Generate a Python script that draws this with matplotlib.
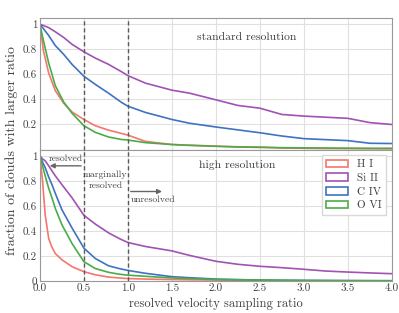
import matplotlib
matplotlib.use("Agg")
import matplotlib.pyplot as plt
from matplotlib.patches import Patch

plt.rcParams['font.family'] = 'serif'
plt.rcParams['font.serif'] = ['cmr10', 'DejaVu Serif']
plt.rcParams['mathtext.fontset'] = 'cm'
plt.rcParams['axes.unicode_minus'] = False

ions = ['H I', 'Si II', 'C IV', 'O VI']
colors = ['#f4776e', '#a152b3', '#3f72c0', '#4bab48']

# standard resolution
x_std = [0, 0.04, 0.1, 0.175, 0.27, 0.365, 0.5, 0.63, 0.78, 0.93, 1.0, 1.2,
         1.5, 1.7, 2.0, 2.25, 2.5, 2.75, 3.0, 3.25, 3.5, 3.75, 4.0]
hi_std = [1, 0.79, 0.61, 0.47, 0.37, 0.30, 0.24, 0.19, 0.155, 0.128, 0.115, 0.065,
          0.04, 0.035, 0.027, 0.022, 0.02, 0.012, 0.01, 0.008, 0.007, 0.006, 0.005]
siii_std = [1, 0.99, 0.973, 0.94, 0.895, 0.84, 0.78, 0.73, 0.68, 0.62, 0.59, 0.53,
            0.474, 0.45, 0.397, 0.352, 0.33, 0.28, 0.267, 0.258, 0.249, 0.215, 0.20]
civ_std = [1, 0.965, 0.91, 0.83, 0.76, 0.68, 0.585, 0.52, 0.45, 0.375, 0.346, 0.296,
           0.24, 0.21, 0.18, 0.157, 0.134, 0.108, 0.087, 0.079, 0.071, 0.05, 0.048]
ovi_std = [1, 0.87, 0.69, 0.51, 0.38, 0.29, 0.19, 0.137, 0.10, 0.08, 0.076, 0.055,
           0.04, 0.033, 0.026, 0.02, 0.017, 0.015, 0.013, 0.012, 0.011, 0.01, 0.01]

# high resolution
x_high = [0, 0.03, 0.06, 0.1, 0.137, 0.175, 0.25, 0.365, 0.5, 0.63, 0.78, 0.9, 1.0,
          1.2, 1.5, 1.7, 2.0, 2.25, 2.5, 2.75, 3.0, 3.25, 3.5, 3.75, 4.0]
hi_high = [1, 0.80, 0.53, 0.34, 0.27, 0.22, 0.17, 0.115, 0.075, 0.05, 0.032, 0.025, 0.02,
           0.016, 0.012, 0.01, 0.008, 0.006, 0.005, 0.004, 0.003, 0.003, 0.002, 0.002, 0.002]
siii_high = [1, 0.975, 0.96, 0.92, 0.88, 0.84, 0.77, 0.665, 0.525, 0.455, 0.385, 0.34, 0.308,
             0.276, 0.241, 0.205, 0.158, 0.134, 0.118, 0.107, 0.094, 0.08, 0.072, 0.065, 0.059]
civ_high = [1, 0.95, 0.906, 0.83, 0.77, 0.70, 0.57, 0.424, 0.263, 0.18, 0.122, 0.1, 0.085,
            0.062, 0.035, 0.027, 0.016, 0.012, 0.008, 0.006, 0.005, 0.004, 0.004, 0.003, 0.003]
ovi_high = [1, 0.92, 0.84, 0.74, 0.665, 0.58, 0.45, 0.30, 0.155, 0.10, 0.07, 0.055, 0.047,
            0.038, 0.025, 0.02, 0.012, 0.01, 0.008, 0.006, 0.005, 0.004, 0.003, 0.003, 0.002]

panels = [
    (x_std, [hi_std, siii_std, civ_std, ovi_std], 'standard resolution', (2.35, 0.9)),
    (x_high, [hi_high, siii_high, civ_high, ovi_high], 'high resolution', (2.24, 0.93)),
]

fig, axes = plt.subplots(2, 1, figsize=(3.99, 3.13), dpi=100, sharex=True)
fig.subplots_adjust(left=0.1, right=0.982, top=0.9425, bottom=0.102, hspace=0)

text_col = '0.25'
for ax, (xs, ys, title, tpos) in zip(axes, panels):
    for y, c in zip(ys, colors):
        ax.plot(xs, y, color=c, lw=1.2)
    for xv in [0.5, 1.0]:
        ax.axvline(xv, color='0.35', ls='--', lw=1.0, dashes=(3, 2))
    ax.set_xlim(0, 4)
    ax.set_ylim(0, 1.05)
    ax.grid(True, color='0.88', lw=0.8)
    ax.set_axisbelow(True)
    for s in ax.spines.values():
        s.set_color('0.6')
        s.set_linewidth(0.8)
    ax.tick_params(length=0, labelsize=8, labelcolor=text_col, pad=2)
    ax.text(tpos[0], tpos[1], title, ha='center', va='center', fontsize=8.4, color=text_col)

axes[0].set_yticks([0.2, 0.4, 0.6, 0.8, 1.0])
axes[0].set_yticklabels(['0.2', '0.4', '0.6', '0.8', '1'])
axes[1].set_yticks([0, 0.2, 0.4, 0.6, 0.8, 1.0])
axes[1].set_yticklabels(['0', '0.2', '0.4', '0.6', '0.8', '1'])
axes[1].set_xticks([0, 0.5, 1, 1.5, 2, 2.5, 3, 3.5, 4])
axes[1].set_xticklabels(['0.0', '0.5', '1.0', '1.5', '2.0', '2.5', '3.0', '3.5', '4.0'])

ax = axes[1]
arrow = dict(arrowstyle='-|>', color='0.4', lw=1.0, mutation_scale=7)
ax.annotate('', xy=(0.08, 0.92), xytext=(0.5, 0.92), arrowprops=arrow)
ax.text(0.29, 0.975, 'resolved', ha='center', va='center', fontsize=7, color=text_col)
ax.text(0.745, 0.805, 'marginally\nresolved', ha='center', va='center', fontsize=7,
        color=text_col, linespacing=1.3)
ax.annotate('', xy=(1.42, 0.715), xytext=(1.0, 0.715), arrowprops=arrow)
ax.text(1.03, 0.65, 'unresolved', ha='left', va='center', fontsize=7, color=text_col)

handles = [Patch(facecolor='none', edgecolor=c, lw=1.2, label=l) for c, l in zip(colors, ions)]
ax.legend(handles=handles, loc='upper right', fontsize=8, frameon=True, framealpha=1,
          edgecolor='0.85', fancybox=False, handlelength=2.0, labelcolor=text_col,
          borderpad=0.4, labelspacing=0.35)

fig.text(0.03, 0.52, 'fraction of clouds with larger ratio', rotation=90,
         ha='center', va='center', fontsize=10, color=text_col)
ax.set_xlabel('resolved velocity sampling ratio', fontsize=9, color=text_col, labelpad=3)

fig.savefig('out.png', dpi=100)
